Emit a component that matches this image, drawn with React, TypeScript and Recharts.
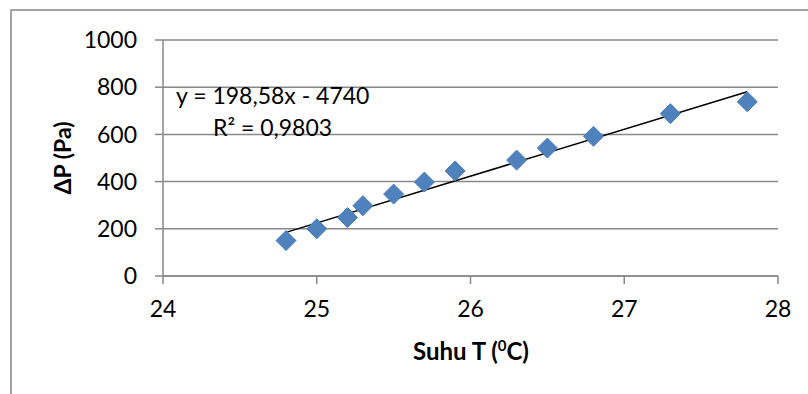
import React from "react";
import {
  ScatterChart,
  Scatter,
  XAxis,
  YAxis,
  CartesianGrid,
} from "recharts";

const temperatures = [24.8, 25.0, 25.2, 25.3, 25.5, 25.7, 25.9, 26.3, 26.5, 26.8, 27.3, 27.8];
const pressures = [150, 200, 248, 298, 347, 398, 445, 491, 542, 592, 688, 738];
const xTicks = [24, 25, 26, 27, 28];
const yTicks = [0, 200, 400, 600, 800, 1000];
const slope = 198.58;
const intercept = -4740;
const trendX = [24.8, 27.8];
const equationText = "y = 198,58x - 4740";
const r2Text = "R² = 0,9803";

const points = temperatures.map((t, i) => ({ x: t, y: pressures[i] }));
const trend = trendX.map((x) => ({ x, y: slope * x + intercept }));

const FONT = "Lato, 'Open Sans', sans-serif";
const GRAY = "#888888";

const Diamond = (props: any) => {
  const { cx, cy } = props;
  const r = 10;
  return (
    <polygon
      points={`${cx},${cy - r} ${cx + r},${cy} ${cx},${cy + r} ${cx - r},${cy}`}
      fill="#4F81BD"
      stroke="#4A7EBB"
      strokeWidth={1}
    />
  );
};

const NoShape = () => null;

export default function App() {
  return (
    <div style={{ position: "absolute", left: 0, top: 0, width: 808, height: 394, background: "#fff" }}>
      <ScatterChart
        width={808}
        height={394}
        margin={{ top: 40, right: 30, bottom: 88, left: 0 }}
      >
        <rect x={11} y={10} width={900} height={500} fill="none" stroke={GRAY} strokeWidth={1.5} />
        <CartesianGrid horizontal vertical={false} stroke={GRAY} strokeWidth={1.5} />
        <XAxis
          type="number"
          dataKey="x"
          domain={[24, 28]}
          ticks={xTicks}
          height={30}
          tickSize={8}
          tickMargin={17}
          axisLine={{ stroke: GRAY, strokeWidth: 1.5 }}
          tickLine={{ stroke: GRAY, strokeWidth: 1.5 }}
          tick={{ fill: "#000", fontSize: 23, fontFamily: FONT }}
          allowDataOverflow
        />
        <YAxis
          type="number"
          dataKey="y"
          domain={[0, 1000]}
          ticks={yTicks}
          width={163}
          tickSize={8}
          tickMargin={18}
          axisLine={{ stroke: GRAY, strokeWidth: 1.5 }}
          tickLine={{ stroke: GRAY, strokeWidth: 1.5 }}
          tick={{ fill: "#000", fontSize: 23, fontFamily: FONT }}
          allowDataOverflow
        />
        <Scatter
          data={trend}
          line={{ stroke: "#000", strokeWidth: 1.5 }}
          shape={NoShape}
          isAnimationActive={false}
        />
        <Scatter data={points} shape={Diamond} isAnimationActive={false} />
        <text x={176} y={104} fontSize={23} fontFamily={FONT} fill="#000">
          {equationText}
        </text>
        <text x={213} y={136} fontSize={23} fontFamily={FONT} fill="#000">
          {r2Text}
        </text>
        <text
          x={62}
          y={158}
          transform="rotate(-90 62 158)"
          textAnchor="middle"
          dominantBaseline="central"
          fontSize={23}
          fontWeight="bold"
          fontFamily={FONT}
          fill="#000"
        >
          ΔP (Pa)
        </text>
        <text
          x={471}
          y={360}
          textAnchor="middle"
          fontSize={24}
          fontWeight="bold"
          fontFamily={FONT}
          fill="#000"
        >
          Suhu T (
          <tspan fontSize={15} dy={-9}>0</tspan>
          <tspan dy={9}>C)</tspan>
        </text>
      </ScatterChart>
    </div>
  );
}
